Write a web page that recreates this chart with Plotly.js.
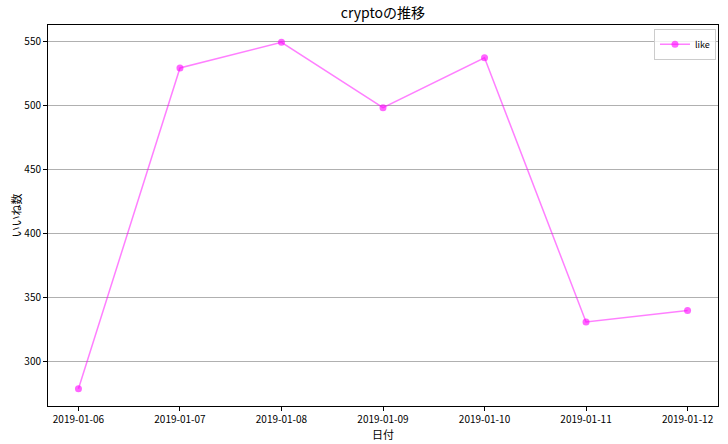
<!DOCTYPE html>
<html>
<head>
<meta charset="utf-8">
<script src="https://cdn.plot.ly/plotly-3.0.1.min.js"></script>
<style>html,body{margin:0;padding:0;background:#fff;}#chart{width:728px;height:444px;}</style>
</head>
<body>
<div id="chart"></div>
<script>
const dates = ["2019-01-06","2019-01-07","2019-01-08","2019-01-09","2019-01-10","2019-01-11","2019-01-12"];
const likes = [279, 529, 549, 498, 537, 331, 340];
const seriesName = "like";
const titleText = "cryptoの推移";
const xLabel = "日付";
const yLabel = "いいね数";
const yTicks = [300, 350, 400, 450, 500, 550];

const font = '"Noto Sans CJK JP", "DejaVu Sans", sans-serif';

const trace = {
  x: dates, y: likes, name: seriesName, type: 'scatter', mode: 'lines+markers',
  line: {color: 'rgba(255,0,255,0.5)', width: 1.5},
  marker: {color: 'rgba(255,0,255,0.6)', size: 7}
};

const layout = {
  width: 728, height: 444,
  margin: {l: 48, r: 10, t: 25, b: 38},
  paper_bgcolor: '#fff', plot_bgcolor: '#fff',
  font: {family: font, size: 10, color: '#000'},
  title: {text: titleText, font: {family: font, size: 14, color: '#000'}, x: 0.526, xanchor: 'center', y: 0.97, yanchor: 'middle'},
  showlegend: true,
  legend: {x: 0.997, y: 0.99, xanchor: 'right', yanchor: 'top', bgcolor: 'rgba(255,255,255,0.8)', bordercolor: '#cccccc', borderwidth: 1, itemwidth: 30, font: {family: font, size: 9}},
  xaxis: {
    type: 'date', range: ['2019-01-05 16:48', '2019-01-12 07:12'],
    tickvals: dates, ticktext: dates, tickformat: '%Y-%m-%d',
    showgrid: false, zeroline: false,
    showline: true, linecolor: '#000', linewidth: 1, mirror: true,
    ticks: 'outside', ticklen: 4, tickcolor: '#000',
    title: {text: xLabel, font: {family: font, size: 11}, standoff: 2}
  },
  yaxis: {
    range: [265.5, 562.5], tickvals: yTicks,
    showgrid: true, gridcolor: '#b0b0b0', gridwidth: 1, zeroline: false,
    showline: true, linecolor: '#000', linewidth: 1, mirror: true,
    ticks: 'outside', ticklen: 4, tickcolor: '#000',
    title: {text: yLabel, font: {family: font, size: 11}, standoff: 0}
  }
};

Plotly.newPlot('chart', [trace], layout, {staticPlot: true, displayModeBar: false});
</script>
</body>
</html>
